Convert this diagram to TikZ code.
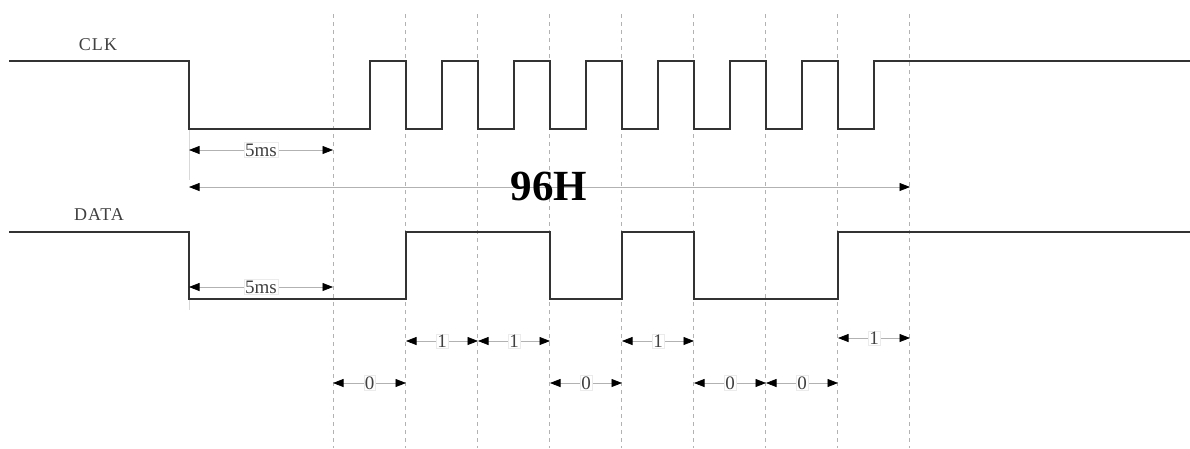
\documentclass[tikz,border=0pt]{standalone}
\usepackage{fontspec}
\setmainfont{Liberation Serif}
\newfontfamily\spacedfont[LetterSpace=6]{Liberation Serif}
\usetikzlibrary{arrows.meta}
\tikzset{
  signal/.style={line width=1.4pt, draw=black!80, line join=miter},
  grid/.style={draw=black!30, line width=0.6pt, dash pattern=on 4pt off 4pt},
  ext/.style={draw=black!15, line width=0.6pt},
  dim/.style={draw=black!30, line width=0.7pt,
    {Triangle[length=10.5pt,width=8pt,black]}-{Triangle[length=10.5pt,width=8pt,black]}},
  lbl/.style={fill=white, draw=black!8, line width=0.4pt, inner sep=1pt,
    text=black!75, font=\fontsize{19}{19}\selectfont},
  sig/.style={text=black!75, font=\spacedfont\fontsize{18}{18}\selectfont},
}
\begin{document}
\begin{tikzpicture}[x=1pt,y=-1pt]
\useasboundingbox[fill=white] (0,0) rectangle (1190,448);
% dashed timing grid
\foreach \i in {0,...,8}{
  \pgfmathsetmacro{\gx}{333+72*\i}
  \coordinate (t\i) at (\gx,14);
  \coordinate (b\i) at (\gx,448);
  \draw[grid] (t\i) -- (b\i);
}
% extension lines at the start edge
\coordinate (e1) at (189,129);
\coordinate (e2) at (189,180);
\coordinate (e3) at (189,299);
\coordinate (e4) at (189,310);
\draw[ext] (e1) -- (e2);
\draw[ext] (e3) -- (e4);
% CLK signal
\draw[signal] (9,61) -- (189,61) -- (189,129) -- (370,129)
  \foreach \k in {0,...,6}{ -- ({370+72*\k},61) -- ({406+72*\k},61) -- ({406+72*\k},129) -- ({442+72*\k},129) }
  -- (874,61) -- (1190,61);
% DATA signal
\draw[signal] (9,232) -- (189,232) -- (189,299) -- (406,299) -- (406,232)
  -- (550,232) -- (550,299) -- (622,299) -- (622,232) -- (694,232) -- (694,299)
  -- (838,299) -- (838,232) -- (1190,232);
% labels
\node[sig] (clk) at (98,45) {CLK};
\node[sig] (data) at (99,215) {DATA};
% dimension coordinates
\coordinate (c5a) at (189,150);  \coordinate (c5b) at (333,150);
\coordinate (h1) at (189,187);   \coordinate (h2) at (910,187);
\coordinate (d5a) at (189,287);  \coordinate (d5b) at (333,287);
\foreach \i/\x in {0/333,1/406,2/478,3/550,4/622,5/694,6/766,7/838,8/910}{
  \coordinate (o\i) at (\x,341);
  \coordinate (z\i) at (\x,383);
}
\coordinate (oo7) at (838,338); \coordinate (oo8) at (910,338);
\draw[dim] (c5a) -- node[lbl] (l5c) {5ms} (c5b);
\draw[dim] (d5a) -- node[lbl] (l5d) {5ms} (d5b);
\draw[dim] (h1) -- (h2);
\node[font=\bfseries\fontsize{43}{43}\selectfont, text=black, inner sep=0pt] (hex) at (549,186) {96H};
% bits
\draw[dim] (o1) -- node[lbl] (b1l) {1} (o2);
\draw[dim] (o2) -- node[lbl] (b2l) {1} (o3);
\draw[dim] (o4) -- node[lbl] (b4l) {1} (o5);
\draw[dim] (oo7) -- node[lbl] (b8l) {1} (oo8);
\draw[dim] (z0) -- node[lbl] (b0l) {0} (z1);
\draw[dim] (z3) -- node[lbl] (b3l) {0} (z4);
\draw[dim] (z5) -- node[lbl] (b5l) {0} (z6);
\draw[dim] (z6) -- node[lbl] (b6l) {0} (z7);
\end{tikzpicture}
\end{document}
